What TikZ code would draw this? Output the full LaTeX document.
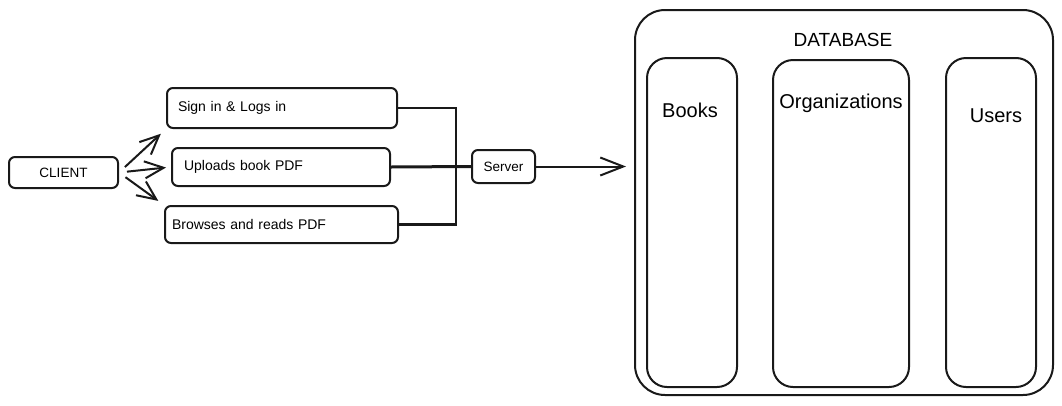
\documentclass[tikz,border=0pt]{standalone}
\usepackage{fontspec}
\setmainfont{Liberation Sans}
\usetikzlibrary{arrows.meta}
\begin{document}
\begin{tikzpicture}[x=1pt,y=-1pt,
  box/.style={draw=black!90, line width=2pt, rounded corners=6pt, inner sep=0pt},
  actbox/.style={box, align=left, minimum height=#1},
  bigbox/.style={draw=black!90, line width=2pt, rounded corners=30pt, inner sep=0pt},
  tblbox/.style={draw=black!90, line width=2pt, rounded corners=20pt, inner sep=0pt},
  conn/.style={draw=black!90, line width=2pt},
  arr/.style={conn, -{Straight Barb[length=19pt,width=17pt,line width=2pt]}},
  bigarr/.style={conn, -{Straight Barb[length=23pt,width=18pt,line width=2pt]}},
  small/.style={font=\fontsize{14}{16}\selectfont},
  big/.style={font=\fontsize{20}{24}\selectfont}
]
\useasboundingbox (0,0) rectangle (1062,405);

% client
\node[box, minimum width=109pt, minimum height=31pt, font=\fontsize{13.5}{15}\selectfont] (client) at (63.5,172.5) {CLIENT};

% actions
\node[actbox=40pt, small, inner xsep=11pt, text width=208pt] (signin) at (282,108) {Sign in \& Logs in};
\node[actbox=38pt, small, inner xsep=12pt, text width=194pt] (upload) at (281,167) {Uploads book PDF};
\node[actbox=37pt, small, inner xsep=7pt, text width=219pt] (browse) at (281.5,224.5) {Browses and reads PDF};

% server
\node[box, minimum width=63pt, minimum height=33pt, font=\fontsize{13.5}{15}\selectfont] (server) at (503.5,166.5) {Server};

% database
\node[bigbox, minimum width=418pt, minimum height=385pt] (db) at (844,202.5) {};
\node[font=\fontsize{19}{22}\selectfont] (dbtitle) at (843,40) {DATABASE};
\node[tblbox, minimum width=90pt, minimum height=329pt] (books) at (692,222.5) {};
\node[tblbox, minimum width=136pt, minimum height=327pt] (orgs) at (841,223.5) {};
\node[tblbox, minimum width=90pt, minimum height=329pt] (users) at (991,222.5) {};
\node[big] (bookslbl) at (690,110) {Books};
\node[big] (orgslbl) at (841,103) {Organizations};
\node[big] (userslbl) at (996,116) {Users};

% arrows from client
\draw[arr, shorten <=8pt, shorten >=7pt] (client.east) -- (signin.south west);
\draw[arr, shorten <=8pt, shorten >=5pt] (client.east) -- (upload.west);
\draw[arr, shorten <=8pt, shorten >=7pt] (client.east) -- (browse.north west);

% bus to server
\coordinate (bar) at (456,167);
\draw[conn, line width=2.4pt] (signin.east) -| (bar);
\draw[conn, line width=2.4pt] (browse.east) -| (bar);
\draw[conn, line width=3pt] (upload.east) -- (server.west);

% server to database
\draw[bigarr, shorten >=8pt] (server.east) -- (server.east -| db.west);
\end{tikzpicture}
\end{document}
